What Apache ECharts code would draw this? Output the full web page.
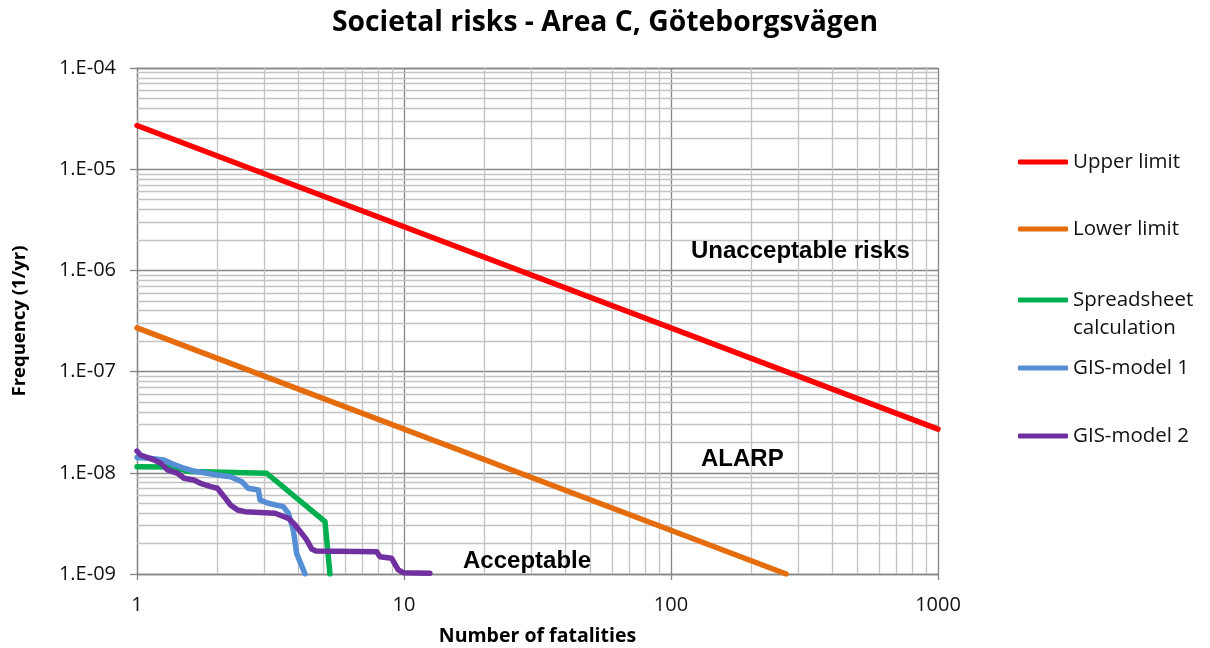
<!DOCTYPE html>
<html>
<head>
<meta charset="utf-8">
<title>Societal risks - Area C, Göteborgsvägen</title>
<script src="https://cdn.jsdelivr.net/npm/echarts@6/dist/echarts.min.js"></script>
<style>
  html, body { margin: 0; padding: 0; background: #ffffff; }
  #chart { width: 1210px; height: 648px; }
</style>
</head>
<body>
<div id="chart"></div>
<script>
// F-N curves: number of fatalities (N) against cumulative frequency (F, 1/yr)
const upperN = [1, 1000];
const upperF = [2.7e-5, 2.7e-8];

const lowerN = [1, 270];
const lowerF = [2.7e-7, 1e-9];

const sheetN = [1, 1.33, 1.59, 3.06, 5.06, 5.28];
const sheetF = [1.15e-8, 1.14e-8, 1.03e-8, 0.99e-8, 3.29e-9, 1e-9];

const gis1N = [1, 1.11, 1.26, 1.34, 1.50, 1.63, 2.0, 2.24, 2.47, 2.61, 2.85, 2.89, 3.10, 3.53, 3.69, 3.85, 3.96, 4.26];
const gis1F = [1.42e-8, 1.39e-8, 1.34e-8, 1.24e-8, 1.11e-8, 1.04e-8, 9.5e-9, 9.15e-9, 8.17e-9, 7.03e-9, 6.76e-9, 5.39e-9, 5.0e-9, 4.63e-9, 3.98e-9, 2.72e-9, 1.6e-9, 1e-9];

const gis2N = [1, 1.03, 1.16, 1.23, 1.30, 1.42, 1.50, 1.63, 1.73, 1.89, 2.0, 2.12, 2.24, 2.38, 2.54, 3.29, 3.69, 3.91, 4.14, 4.32, 4.51, 4.68, 7.90, 8.13, 8.99, 9.52, 9.94, 12.5];
const gis2F = [1.64e-8, 1.50e-8, 1.34e-8, 1.24e-8, 1.07e-8, 9.89e-9, 8.83e-9, 8.49e-9, 7.87e-9, 7.29e-9, 7.03e-9, 5.81e-9, 4.81e-9, 4.29e-9, 4.13e-9, 3.98e-9, 3.55e-9, 3.05e-9, 2.52e-9, 2.17e-9, 1.77e-9, 1.69e-9, 1.66e-9, 1.48e-9, 1.43e-9, 1.10e-9, 1.03e-9, 1.02e-9];

const seriesNames = ['Upper limit', 'Lower limit', 'Spreadsheet calculation', 'GIS-model 1', 'GIS-model 2'];
const seriesColors = ['#ff0000', '#e46c0a', '#00b050', '#558ed5', '#7030a0'];

// Axis ranges
const xMin = 1, xMax = 1000;
const yMin = 1e-9, yMax = 1e-4;
const xDecades = [1, 10, 100];
const yDecades = [1e-9, 1e-8, 1e-7, 1e-6, 1e-5];

const zip = (xs, ys) => xs.map((x, i) => [x, ys[i]]);

// minor gridlines at 2..9 within each decade
const minorX = [];
xDecades.forEach(d => { for (let k = 2; k <= 9; k++) minorX.push(d * k); });
const minorY = [];
yDecades.forEach(d => { for (let k = 2; k <= 9; k++) minorY.push(d * k); });

const minorLines = minorX.map(v => [{ coord: [v, yMin] }, { coord: [v, yMax] }])
  .concat(minorY.map(v => [{ coord: [xMin, v] }, { coord: [xMax, v] }]));

const uiFont = '"Open Sans", "Noto Sans", sans-serif';
const noteFont = '"Liberation Sans", Arial, sans-serif';

function lineSeries(name, data, color, z) {
  return {
    name: name,
    type: 'line',
    data: data,
    symbol: 'none',
    showSymbol: false,
    z: z,
    clip: true,
    lineStyle: { color: color, width: 5.5, cap: 'round', join: 'round' },
    itemStyle: { color: color },
    emphasis: { disabled: true },
    animation: false
  };
}

const legendBase = {
  left: 1018,
  padding: 0,
  icon: 'roundRect',
  itemWidth: 50,
  itemHeight: 5,
  selectedMode: false
};

const legendRows = [
  { name: seriesNames[0], top: 150 },
  { name: seriesNames[1], top: 217 },
  { name: seriesNames[3], top: 356 },
  { name: seriesNames[4], top: 424 }
];

const legends = legendRows.map(r => Object.assign({}, legendBase, {
  data: [r.name],
  top: r.top,
  textStyle: { fontFamily: uiFont, fontSize: 20.5, color: '#111', lineHeight: 24 }
}));
// two-line entry: the leading blank line keeps the key beside the first line
legends.push(Object.assign({}, legendBase, {
  data: [seriesNames[2]],
  top: 258,
  formatter: () => '\nSpreadsheet\ncalculation',
  textStyle: { fontFamily: uiFont, fontSize: 20.5, color: '#111', lineHeight: 28 }
}));

const chart = echarts.init(document.getElementById('chart'), null, { renderer: 'canvas' });

chart.setOption({
  backgroundColor: '#ffffff',
  animation: false,
  title: {
    text: 'Societal risks - Area C, Göteborgsvägen',
    left: 'center',
    top: 6,
    padding: 0,
    textStyle: { fontFamily: uiFont, fontWeight: 'bold', fontSize: 28.3, color: '#000', lineHeight: 34 }
  },
  legend: legends,
  grid: { left: 137, right: 272, top: 68, bottom: 74, containLabel: false, outerBoundsMode: 'none' },
  xAxis: {
    type: 'log',
    logBase: 10,
    min: xMin,
    max: xMax,
    name: 'Number of fatalities',
    nameLocation: 'middle',
    nameGap: 50,
    nameTextStyle: { fontFamily: uiFont, fontWeight: 'bold', fontSize: 19.5, color: '#000', lineHeight: 24 },
    axisLine: { show: true, lineStyle: { color: '#868686', width: 1.3 } },
    axisTick: { show: true, length: 6, lineStyle: { color: '#868686', width: 1.3 } },
    axisLabel: {
      margin: 19,
      fontFamily: uiFont, fontSize: 20, color: '#111', lineHeight: 24,
      formatter: v => String(Math.round(v))
    },
    splitLine: { show: true, lineStyle: { color: '#868686', width: 1.3 } },
    minorTick: { show: false },
    minorSplitLine: { show: false }
  },
  yAxis: {
    type: 'log',
    logBase: 10,
    min: yMin,
    max: yMax,
    name: 'Frequency (1/yr)',
    nameLocation: 'middle',
    nameGap: 105,
    nameTextStyle: { fontFamily: uiFont, fontWeight: 'bold', fontSize: 18.5, color: '#000', lineHeight: 24 },
    axisLine: { show: true, lineStyle: { color: '#868686', width: 1.3 } },
    axisTick: { show: true, length: 7, lineStyle: { color: '#868686', width: 1.3 } },
    axisLabel: {
      margin: 21,
      fontFamily: uiFont, fontSize: 20, color: '#111',
      formatter: v => '1.E-' + String(-Math.round(Math.log10(v))).padStart(2, '0')
    },
    splitLine: { show: true, lineStyle: { color: '#868686', width: 1.3 } },
    minorTick: { show: false },
    minorSplitLine: { show: false }
  },
  graphic: [
    {
      type: 'text', left: 691, top: 239, z: 50,
      style: { text: 'Unacceptable risks', font: 'bold 24px ' + noteFont, fill: '#000' }
    },
    {
      type: 'text', left: 701, top: 447, z: 50,
      style: { text: 'ALARP', font: 'bold 24px ' + noteFont, fill: '#000' }
    },
    {
      type: 'text', left: 463, top: 549, z: 50,
      style: { text: 'Acceptable', font: 'bold 24px ' + noteFont, fill: '#000' }
    }
  ],
  series: [
    {
      name: 'minor-grid',
      type: 'line',
      data: [],
      z: 1,
      silent: true,
      animation: false,
      markLine: {
        z: 1,
        silent: true,
        animation: false,
        symbol: ['none', 'none'],
        label: { show: false },
        emphasis: { disabled: true },
        lineStyle: { color: '#c3c3c3', width: 1.3, type: 'solid' },
        data: minorLines
      }
    },
    lineSeries(seriesNames[0], zip(upperN, upperF), seriesColors[0], 3),
    lineSeries(seriesNames[1], zip(lowerN, lowerF), seriesColors[1], 4),
    lineSeries(seriesNames[2], zip(sheetN, sheetF), seriesColors[2], 5),
    lineSeries(seriesNames[3], zip(gis1N, gis1F), seriesColors[3], 6),
    lineSeries(seriesNames[4], zip(gis2N, gis2F), seriesColors[4], 7)
  ]
});
</script>
</body>
</html>
